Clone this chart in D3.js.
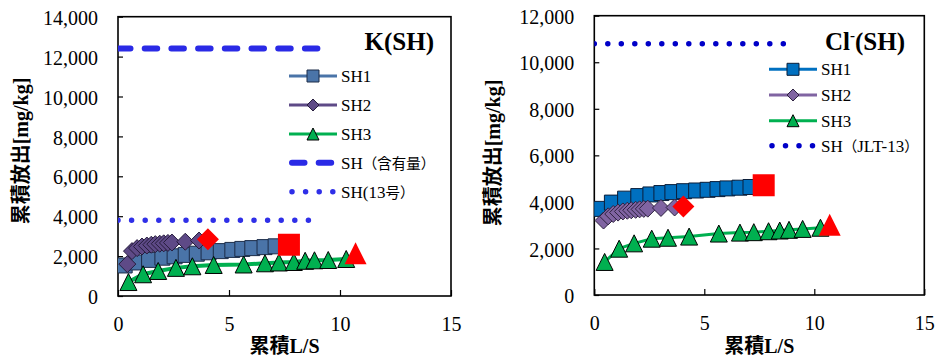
<!DOCTYPE html>
<html>
<head>
<meta charset="utf-8">
<script src="https://cdn.jsdelivr.net/npm/d3@7"></script>
<style>
  html, body { margin: 0; padding: 0; background: #fff; }
  svg { display: block; }
  text { font-family: "Liberation Serif", "Noto Sans CJK JP", serif; fill: #000; }
</style>
</head>
<body>
<svg id="chart" width="946" height="361"></svg>
<script>
// Cumulative L/S of each sample series
const lsSH1 = [0.3, 0.8, 1.4, 2.0, 2.55, 3.05, 3.55, 4.08, 4.63, 5.15, 5.6, 6.05, 6.6, 7.1];
const lsSH2 = [0.42, 0.63, 0.86, 1.08, 1.3, 1.5, 1.68, 1.88, 2.06, 2.25, 2.43, 3.03, 3.65];
const lsSH3 = [0.47, 1.13, 1.81, 2.61, 3.35, 4.31, 5.66, 6.62, 7.25, 7.92, 8.43, 8.85, 9.47, 10.28];
// Final (end-point) L/S for SH1, SH2, SH3
const lsEnd = [7.7, 4.05, 10.7];

// K cumulative release [mg/kg]
const kSH1 = [1530, 1680, 1810, 1920, 1990, 2060, 2120, 2190, 2250, 2310, 2360, 2400, 2450, 2490];
const kSH2 = [1600, 2250, 2400, 2480, 2530, 2570, 2600, 2620, 2640, 2660, 2680, 2720, 2780];
const kSH3 = [700, 1090, 1255, 1410, 1490, 1555, 1580, 1640, 1680, 1705, 1765, 1790, 1805, 1855];
const kEnd = [2570, 2850, 2140];
const kContent = 12400;   // SH（含有量）
const kJLT13 = 3800;      // SH(13号)

// Cl- cumulative release [mg/kg]
const clSH1 = [3700, 3970, 4140, 4250, 4320, 4380, 4420, 4460, 4490, 4520, 4550, 4580, 4610, 4640];
const clSH2 = [3200, 3380, 3480, 3540, 3590, 3620, 3640, 3660, 3680, 3700, 3710, 3740, 3760];
const clSH3 = [1420, 1990, 2220, 2420, 2460, 2510, 2640, 2680, 2700, 2740, 2770, 2800, 2840, 2890];
const clEnd = [4720, 3800, 3020];
const clJLT13 = 10800;    // SH（JLT-13）

// Horizontal reference lines run from L/S 0 to these values
const refEndContent = 9.0;
const refEndK13 = 8.6;
const refEndCl13 = 8.62;

const xTicks = [0, 5, 10, 15];
const kTicks = [0, 2000, 4000, 6000, 8000, 10000, 12000, 14000];
const clTicks = [0, 2000, 4000, 6000, 8000, 10000, 12000];
const seriesNames = ["SH1", "SH2", "SH3"];

const svg = d3.select("#chart");
const fmt = d3.format(",");

function markerPath(shape, s) {
  const h = s / 2;
  if (shape === "square") return `M${-h},${-h}H${h}V${h}H${-h}Z`;
  if (shape === "diamond") return `M0,${-h}L${h},0L0,${h}L${-h},0Z`;
  return `M0,${-h}L${h},${h}L${-h},${h}Z`;
}

function drawPanel(cfg) {
  const g = svg.append("g");
  const x = d3.scaleLinear().domain([0, 15]).range([cfg.left, cfg.right]);
  const y = d3.scaleLinear().domain([0, cfg.yMax]).range([cfg.bottom, cfg.top]);

  const clipId = "clip" + cfg.id;
  svg.append("clipPath").attr("id", clipId).append("rect")
    .attr("x", cfg.left).attr("y", cfg.top)
    .attr("width", cfg.right - cfg.left).attr("height", cfg.bottom - cfg.top);

  // Axes with inward ticks
  const yAxis = d3.axisLeft(y).tickValues(cfg.yTicks).tickSize(-5).tickPadding(20).tickFormat(fmt);
  const gy = g.append("g").attr("transform", `translate(${cfg.left},0)`).call(yAxis);
  gy.select(".domain").remove();
  gy.selectAll(".tick line").attr("stroke", "#000").attr("stroke-width", 1.2);
  gy.selectAll(".tick text").attr("font-size", 20).attr("dy", "0.38em")
    .style("font-family", "Liberation Serif");

  const xAxis = d3.axisBottom(x).tickValues(xTicks).tickSize(-6).tickPadding(21).tickFormat(d3.format("d"));
  const gx = g.append("g").attr("transform", `translate(0,${cfg.bottom})`).call(xAxis);
  gx.select(".domain").remove();
  gx.selectAll(".tick line").attr("stroke", "#000").attr("stroke-width", 1.2);
  gx.selectAll(".tick text").attr("font-size", 20).style("font-family", "Liberation Serif");

  // Plot frame
  g.append("rect").attr("x", cfg.left).attr("y", cfg.top)
    .attr("width", cfg.right - cfg.left).attr("height", cfg.bottom - cfg.top)
    .attr("fill", "none").attr("stroke", "#000").attr("stroke-width", 1.6);

  const plot = g.append("g").attr("clip-path", `url(#${clipId})`);

  // Reference lines
  cfg.refs.forEach(r => {
    plot.append("line")
      .attr("x1", x(0)).attr("x2", x(r.end))
      .attr("y1", y(r.value)).attr("y2", y(r.value))
      .attr("stroke", r.color).attr("stroke-width", r.width)
      .attr("stroke-linecap", "round")
      .attr("stroke-dasharray", r.dash);
  });

  // Series: line then markers
  const line = d3.line().x(d => x(d[0])).y(d => y(d[1]));
  cfg.series.forEach(s => {
    const pts = s.xs.map((v, i) => [v, s.ys[i]]);
    plot.append("path").datum(pts).attr("d", line)
      .attr("fill", "none").attr("stroke", s.lineColor).attr("stroke-width", s.lineWidth);
    plot.selectAll(null).data(pts).enter().append("path")
      .attr("transform", d => `translate(${x(d[0])},${y(d[1])})`)
      .attr("d", markerPath(s.shape, s.size))
      .attr("fill", s.fill).attr("stroke", s.stroke).attr("stroke-width", 1);
  });

  // Final points in red
  cfg.series.forEach((s, i) => {
    plot.append("path")
      .attr("transform", `translate(${x(lsEnd[i])},${y(cfg.end[i])})`)
      .attr("d", markerPath(s.shape, 22))
      .attr("fill", "#ff0000");
  });

  // Panel title
  const title = g.append("text").attr("x", cfg.titleX).attr("y", 50)
    .attr("text-anchor", "end").attr("font-size", 25).attr("font-weight", "bold");
  cfg.title.forEach(t => {
    const ts = title.append("tspan").text(t.text);
    if (t.sup) ts.attr("font-size", 15).attr("dy", -10);
    if (t.after) ts.attr("dy", 10);
  });

  // Legend
  cfg.legend.forEach((it, i) => {
    const ly = cfg.legendY[i];
    const lg = g.append("g");
    if (it.series) {
      const s = it.series;
      lg.append("line").attr("x1", cfg.legendX1).attr("x2", cfg.legendX2)
        .attr("y1", ly).attr("y2", ly).attr("stroke", s.lineColor).attr("stroke-width", 3);
      lg.append("path").attr("transform", `translate(${(cfg.legendX1 + cfg.legendX2) / 2},${ly})`)
        .attr("d", markerPath(s.shape, 12))
        .attr("fill", s.fill).attr("stroke", s.stroke).attr("stroke-width", 1);
    } else {
      lg.append("line").attr("x1", cfg.legendX1 + 3).attr("x2", cfg.legendX2 - 2)
        .attr("y1", ly).attr("y2", ly).attr("stroke", it.ref.color).attr("stroke-width", it.ref.width)
        .attr("stroke-linecap", "round").attr("stroke-dasharray", it.ref.dash);
    }
    const t = lg.append("text").attr("x", cfg.legendX2 + 4).attr("y", ly + 6).attr("font-size", 17);
    it.label.forEach(p => {
      const ts = t.append("tspan").text(p.text);
      if (p.cjk) ts.attr("font-size", 14.5);
    });
  });

  // Axis titles
  g.append("text")
    .attr("transform", `translate(${cfg.yTitleX},${cfg.yTitleY}) rotate(-90)`)
    .attr("text-anchor", "middle").attr("font-size", 20).attr("font-weight", "bold")
    .text("累積放出[mg/kg]");
  g.append("text")
    .attr("x", (cfg.left + cfg.right) / 2).attr("y", 353)
    .attr("text-anchor", "middle").attr("font-size", 20).attr("font-weight", "bold")
    .text("累積L/S");
}

// K panel
const kSeries = [
  { xs: lsSH1, ys: kSH1, shape: "square", size: 15, fill: "#4a74a8", stroke: "#1c2c48", lineColor: "#4a74a8", lineWidth: 3 },
  { xs: lsSH2, ys: kSH2, shape: "diamond", size: 17, fill: "#5e4a87", stroke: "#261c3c", lineColor: "#5e4a87", lineWidth: 3 },
  { xs: lsSH3, ys: kSH3, shape: "triangle", size: 17, fill: "#00b050", stroke: "#000", lineColor: "#00b050", lineWidth: 4 }
];
const kContentRef = { value: kContent, end: refEndContent, color: "#2a2ae6", width: 6, dash: "12.5 14.2" };
const k13Ref = { value: kJLT13, end: refEndK13, color: "#2f2fe8", width: 5.5, dash: "0 13.6" };
drawPanel({
  id: "K", left: 118, right: 451, top: 16.7, bottom: 296, yMax: 14000, yTicks: kTicks,
  series: kSeries, end: kEnd,
  refs: [kContentRef, k13Ref],
  title: [{ text: "K(SH)" }], titleX: 434,
  legendX1: 289, legendX2: 337, legendY: [76, 105, 134, 162.7, 191.7],
  legend: [
    { series: kSeries[0], label: [{ text: seriesNames[0] }] },
    { series: kSeries[1], label: [{ text: seriesNames[1] }] },
    { series: kSeries[2], label: [{ text: seriesNames[2] }] },
    { ref: kContentRef, label: [{ text: "SH" }, { text: "（含有量）", cjk: true }] },
    { ref: k13Ref, label: [{ text: "SH(13" }, { text: "号）", cjk: true }] }
  ],
  yTitleX: 28, yTitleY: 151
});

// Cl- panel
const clSeries = [
  { xs: lsSH1, ys: clSH1, shape: "square", size: 15, fill: "#0070c0", stroke: "#0a1e3a", lineColor: "#0070c0", lineWidth: 3 },
  { xs: lsSH2, ys: clSH2, shape: "diamond", size: 17, fill: "#8064a2", stroke: "#2e2240", lineColor: "#8064a2", lineWidth: 3 },
  { xs: lsSH3, ys: clSH3, shape: "triangle", size: 17, fill: "#00b050", stroke: "#000", lineColor: "#00b050", lineWidth: 3 }
];
const cl13Ref = { value: clJLT13, end: refEndCl13, color: "#0000c8", width: 5.5, dash: "0 13.5" };
drawPanel({
  id: "Cl", left: 594.3, right: 924.3, top: 15.7, bottom: 295, yMax: 12000, yTicks: clTicks,
  series: clSeries, end: clEnd,
  refs: [cl13Ref],
  title: [{ text: "Cl" }, { text: "-", sup: true }, { text: "(SH)", after: true }], titleX: 905,
  legendX1: 769, legendX2: 817, legendY: [69.3, 95, 120.7, 145.7],
  legend: [
    { series: clSeries[0], label: [{ text: seriesNames[0] }] },
    { series: clSeries[1], label: [{ text: seriesNames[1] }] },
    { series: clSeries[2], label: [{ text: seriesNames[2] }] },
    { ref: cl13Ref, label: [{ text: "SH" }, { text: "（", cjk: true }, { text: "JLT-13" }, { text: "）", cjk: true }] }
  ],
  yTitleX: 500, yTitleY: 153
});
</script>
</body>
</html>
